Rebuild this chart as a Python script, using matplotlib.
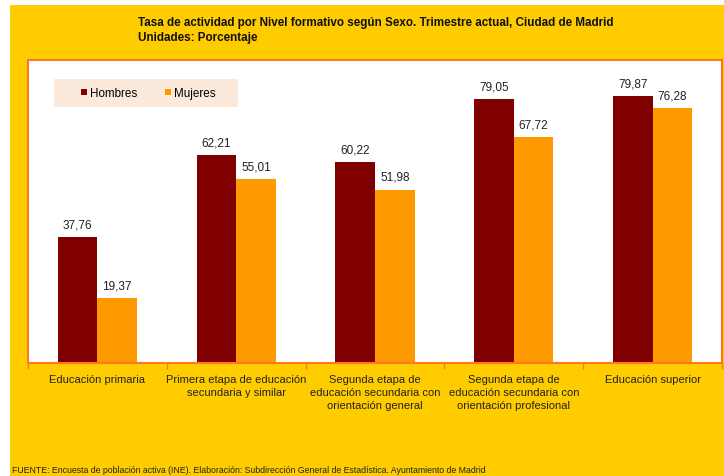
import numpy as np
import matplotlib.pyplot as plt
from matplotlib.patches import Rectangle

plt.rcParams['font.family'] = ['Liberation Sans', 'DejaVu Sans']

categorias = ['Educación primaria',
              'Primera etapa de educación\nsecundaria y similar',
              'Segunda etapa de\neducación secundaria con\norientación general',
              'Segunda etapa de\neducación secundaria con\norientación profesional',
              'Educación superior']
hombres = [37.76, 62.21, 60.22, 79.05, 79.87]
mujeres = [19.37, 55.01, 51.98, 67.72, 76.28]

amarillo = '#FFCC00'
naranja_borde = '#FF7722'
c_h = '#800000'
c_m = '#FF9900'

fig = plt.figure(figsize=(7.24, 4.77), dpi=100, facecolor='white')
# yellow panel (white strip on top and left)
fig.patches.append(Rectangle((10/724, 0), 1 - 10/724, (477 - 6)/477,
                             transform=fig.transFigure, facecolor=amarillo,
                             edgecolor='none', zorder=-10))

ax = fig.add_axes([28/724, (477-364)/477, (722-28)/724, (364-61)/477])
ax.set_facecolor('white')

x = np.arange(len(categorias))
w = 0.285
b1 = ax.bar(x - w/2, hombres, w, color=c_h, label='Hombres', zorder=2)
b2 = ax.bar(x + w/2, mujeres, w, color=c_m, label='Mujeres', zorder=2)

for rects, vals in ((b1, hombres), (b2, mujeres)):
    for r, v in zip(rects, vals):
        ax.text(r.get_x() + r.get_width()/2, v + 2.0, ('%.2f' % v).replace('.', ','),
                ha='center', va='bottom', fontsize=8.5, color='#222222')

ax.set_xlim(-0.5, len(categorias) - 0.5)
ax.set_ylim(0, 90.8)
ax.set_yticks([])
ax.set_xticks(np.arange(-0.5, len(categorias)), minor=False)
ax.set_xticklabels([])
ax.tick_params(axis='x', which='major', length=4, color=naranja_borde, width=1)
ax.set_xticks(x, minor=True)
ax.set_xticklabels(categorias, minor=True, fontsize=8, color='#222222', linespacing=1.35)
ax.tick_params(axis='x', which='minor', length=0, pad=8)

for s in ax.spines.values():
    s.set_color(naranja_borde)
    s.set_linewidth(1.5)

# legend background box
ax.add_patch(Rectangle((26/694, 1 - 47/303), 184/694, 28/303, transform=ax.transAxes,
                       facecolor='#FBE9DC', edgecolor='none', zorder=3))
leg = ax.legend(loc='center left', bbox_to_anchor=(53/694, 1 - 33/303), ncol=2,
                frameon=False, fontsize=8.4, handlelength=0.5,
                handleheight=0.5, handletextpad=0.25, columnspacing=2.4,
                borderpad=0, borderaxespad=0)
leg.set_zorder(4)

fig.text(138/724, 1 - 30.5/477,
         'Tasa de actividad por Nivel formativo según Sexo. Trimestre actual, Ciudad de Madrid\nUnidades: Porcentaje',
         ha='left', va='center', fontsize=8.4, fontweight='bold', color='#111111', linespacing=1.35)

fig.text(12/724, 1 - 471/477,
         'FUENTE: Encuesta de población activa (INE). Elaboración: Subdirección General de Estadística. Ayuntamiento de Madrid',
         ha='left', va='center', fontsize=6.35, color='#222222')

fig.savefig('out.png', dpi=100, facecolor=fig.get_facecolor())
